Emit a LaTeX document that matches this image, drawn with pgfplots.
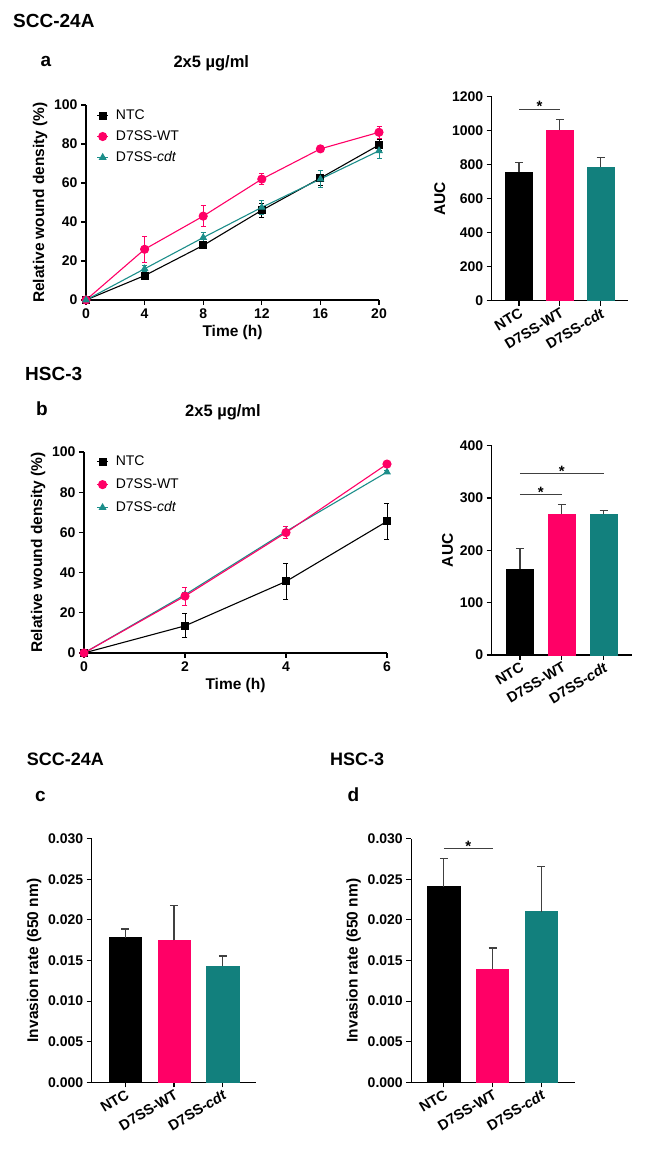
\documentclass[border=0pt]{standalone}
\usepackage{pgfplots}
\pgfplotsset{compat=1.18}
\usepackage{fontspec}
\setmainfont{Liberation Sans}
\definecolor{pk}{RGB}{255,0,102}
\definecolor{tl}{RGB}{18,128,125}
\definecolor{tll}{RGB}{28,142,138}
\definecolor{eb}{RGB}{64,64,64}
\newcommand{\fs}[1]{\fontsize{#1}{#1}\selectfont}

\pgfplotsset{
  gp/.style={
    scale only axis, anchor=south west,
    axis lines=left, axis line style={-, line width=1.1pt, black},
    tick align=outside, major tick length=5pt,
    every tick/.style={black, line width=1.1pt},
    tick label style={font=\fs{14}\bfseries},
    label style={font=\fs{15.5}\bfseries},
    /pgf/number format/assume math mode=true,
    /pgf/number format/1000 sep={},
    enlargelimits=false, clip=false,
  },
  gpline/.style={gp,
    legend cell align=left,
    legend style={draw=none, fill=none, font=\fs{14}, anchor=north west, row sep=5.5pt, inner sep=0pt,
      /tikz/every odd column/.append style={column sep=5pt}},
    legend image code/.code={\draw[mark repeat=2,mark phase=2] plot coordinates {(0cm,0cm) (0.2cm,0cm) (0.4cm,0cm)};},
    ymin=0, ymax=100, ytick={0,20,40,60,80,100},
    xlabel={Time (h)}, ylabel={Relative wound density (\%)},
  },
  gpbar/.style={gp,
    xtick={0,1,2}, xticklabels={NTC,D7SS-WT,D7SS-\textit{cdt}},
    xticklabel style={rotate=31, anchor=north east, inner sep=1pt, font=\fs{14.5}\bfseries},
    xmin=-0.67, xmax=2.67, ymin=0,
  },
  barp/.style={ybar, bar width=0.66, bar shift=0pt, fill=#1, draw=#1, line width=0.6pt,
    error bars/y dir=plus, error bars/y explicit,
    error bars/error bar style={line width=1.1pt, eb},
    error bars/error mark options={rotate=90, line width=1.1pt, eb, mark size=4pt}},
  linep/.style={color=#1, line width=1.1pt,
    error bars/y dir=both, error bars/y explicit,
    error bars/error bar style={line width=0.9pt, #1},
    error bars/error mark options={rotate=90, line width=0.9pt, #1, mark size=2.5pt}},
}

\begin{document}
\begin{tikzpicture}
\path[use as bounding box] (0,0) rectangle (661pt,1155pt);

% ---------- titles ----------
\node[anchor=base west, inner sep=0pt, font=\fs{19}\bfseries] at (13pt,1127pt) {SCC-24A};
\node[anchor=base west, inner sep=0pt, font=\fs{19}\bfseries] at (40.5pt,1088.3pt) {a};
\node[anchor=base west, inner sep=0pt, font=\fs{16.5}\bfseries] at (173.3pt,1087.7pt) {2x5 µg/ml};
\node[anchor=base west, inner sep=0pt, font=\fs{19}\bfseries] at (25pt,774pt) {HSC-3};
\node[anchor=base west, inner sep=0pt, font=\fs{19}\bfseries] at (36pt,739pt) {b};
\node[anchor=base west, inner sep=0pt, font=\fs{16.5}\bfseries] at (185pt,738.3pt) {2x5 µg/ml};
\node[anchor=base west, inner sep=0pt, font=\fs{18}\bfseries] at (26.7pt,389pt) {SCC-24A};
\node[anchor=base west, inner sep=0pt, font=\fs{19}\bfseries] at (35pt,353.3pt) {c};
\node[anchor=base west, inner sep=0pt, font=\fs{18}\bfseries] at (330pt,389pt) {HSC-3};
\node[anchor=base west, inner sep=0pt, font=\fs{19}\bfseries] at (347.3pt,353.3pt) {d};

% ---------- a: line chart ----------
\begin{axis}[gpline, at={(86pt,855pt)}, width=293pt, height=195pt,
  xmin=0, xmax=20, xtick={0,4,8,12,16,20},
  legend style={at={(0.035,0.985)}}]
\addplot[linep=black, mark=square*, mark size=3.5pt, mark options={solid, fill=black}]
  coordinates {(0,0) +- (0,0) (4,12.5) +- (0,1.2) (8,28) +- (0,1.8) (12,46) +- (0,3.5) (16,62.5) +- (0,4) (20,79.5) +- (0,3)};
\addlegendentry{NTC}
\addplot[linep=pk, mark=*, mark size=4pt, mark options={solid, fill=pk}]
  coordinates {(0,0) +- (0,0) (4,26) +- (0,6.5) (8,43) +- (0,5.5) (12,62) +- (0,3) (16,77.5) +- (0,1) (20,86) +- (0,3)};
\addlegendentry{D7SS-WT}
\addplot[linep=tll, mark=triangle*, mark size=3.5pt, mark options={solid, fill=tll}]
  coordinates {(0,0) +- (0,0) (4,16) +- (0,1.5) (8,32) +- (0,2.5) (12,47.5) +- (0,3.5) (16,62) +- (0,4.5) (20,76.5) +- (0,4)};
\addlegendentry{D7SS-\textit{cdt}}
\end{axis}

% ---------- a: AUC ----------
\begin{axis}[gpbar, at={(491.7pt,854.3pt)}, width=136.3pt, height=204pt,
  ymax=1200, ytick={0,200,400,600,800,1000,1200}, ylabel={AUC}]
\addplot[barp=black] coordinates {(0,755) +- (0,57)};
\addplot[barp=pk] coordinates {(1,1004) +- (0,63)};
\addplot[barp=tl] coordinates {(2,786) +- (0,57)};
\draw[line width=1pt, eb] (axis cs:0,1125) -- (axis cs:1,1125);
\node[anchor=base, inner sep=0pt, font=\fs{15}\bfseries, yshift=-2.5pt] at (axis cs:0.5,1125) {*};
\end{axis}

% ---------- b: line chart ----------
\begin{axis}[gpline, at={(84pt,502pt)}, width=303pt, height=201pt,
  xmin=0, xmax=6, xtick={0,2,4,6},
  legend style={at={(0.04,0.99)}, row sep=7.5pt}]
\addplot[linep=black, mark=square*, mark size=3.5pt, mark options={solid, fill=black}]
  coordinates {(0,0) +- (0,0) (2,13.5) +- (0,6) (4,35.6) +- (0,8.8) (6,65.5) +- (0,9)};
\addlegendentry{NTC}
\addplot[linep=tll, mark=triangle*, mark size=3.5pt, mark options={solid, fill=tll}, forget plot]
  coordinates {(0,0) +- (0,0) (2,29) +- (0,1) (4,60.5) +- (0,1) (6,90) +- (0,0.8)};
\addplot[linep=pk, mark=*, mark size=4pt, mark options={solid, fill=pk}]
  coordinates {(0,0) +- (0,0) (2,28.3) +- (0,4.5) (4,59.9) +- (0,3) (6,94) +- (0,1)};
\addlegendentry{D7SS-WT}
\addlegendimage{linep=tll, mark=triangle*, mark size=3.5pt, mark options={solid, fill=tll}}
\addlegendentry{D7SS-\textit{cdt}}
\end{axis}

% ---------- b: AUC ----------
\begin{axis}[gpbar, at={(491.7pt,500pt)}, width=140pt, height=209.3pt,
  xmin=-0.676, xmax=2.67,
  ymax=400, ytick={0,100,200,300,400}, ylabel={AUC}]
\addplot[barp=black] coordinates {(0,163.7) +- (0,39)};
\addplot[barp=pk] coordinates {(1,269.4) +- (0,18)};
\addplot[barp=tl] coordinates {(2,269.4) +- (0,6)};
\draw[line width=1pt, eb] (axis cs:0,306) -- (axis cs:1,306);
\node[anchor=base, inner sep=0pt, font=\fs{15}\bfseries, yshift=-2.5pt] at (axis cs:0.5,306) {*};
\draw[line width=1pt, eb] (axis cs:0,346.5) -- (axis cs:2,346.5);
\node[anchor=base, inner sep=0pt, font=\fs{15}\bfseries, yshift=-2.5pt] at (axis cs:1,346.5) {*};
\end{axis}

% ---------- c ----------
\begin{axis}[gpbar, at={(91.7pt,72.7pt)}, width=164.3pt, height=243.6pt,
  xmin=-0.686, xmax=2.68, ymax=0.03, scaled y ticks=false,
  ytick={0,0.005,0.01,0.015,0.02,0.025,0.03},
  yticklabels={0.000,0.005,0.010,0.015,0.020,0.025,0.030},
  ylabel={Invasion rate (650 nm)}]
\addplot[barp=black] coordinates {(0,0.01781) +- (0,0.00107)};
\addplot[barp=pk] coordinates {(1,0.01748) +- (0,0.00427)};
\addplot[barp=tl] coordinates {(2,0.01432) +- (0,0.00123)};
\end{axis}

% ---------- d ----------
\begin{axis}[gpbar, at={(411.3pt,72.7pt)}, width=163.7pt, height=243.6pt,
  xmin=-0.665, xmax=2.686, ymax=0.03, scaled y ticks=false,
  ytick={0,0.005,0.01,0.015,0.02,0.025,0.03},
  yticklabels={0.000,0.005,0.010,0.015,0.020,0.025,0.030},
  ylabel={Invasion rate (650 nm)}]
\addplot[barp=black] coordinates {(0,0.02409) +- (0,0.00345)};
\addplot[barp=pk] coordinates {(1,0.01391) +- (0,0.00263)};
\addplot[barp=tl] coordinates {(2,0.02101) +- (0,0.00554)};
\draw[line width=1pt, eb] (axis cs:0,0.02877) -- (axis cs:1,0.02877);
\node[anchor=base, inner sep=0pt, font=\fs{15}\bfseries, yshift=-2.5pt] at (axis cs:0.5,0.02877) {*};
\end{axis}
\end{tikzpicture}
\end{document}
